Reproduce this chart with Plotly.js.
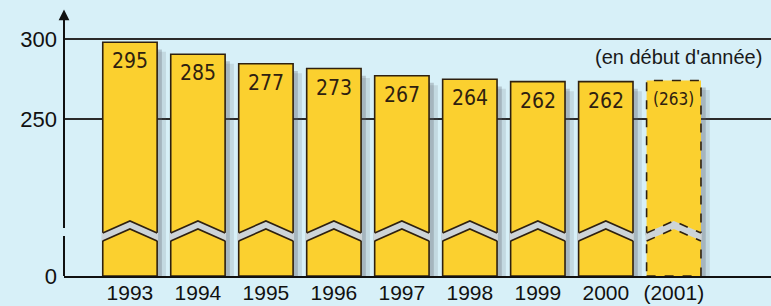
<!DOCTYPE html>
<html>
<head>
<meta charset="utf-8">
<script src="https://cdn.plot.ly/plotly-3.0.1.min.js"></script>
<style>html,body{margin:0;padding:0;background:#d7f0f8;}#chart{width:771px;height:306px;}</style>
</head>
<body>
<div id="chart"></div>
<script>
// ---- data ----
var years = ["1993", "1994", "1995", "1996", "1997", "1998", "1999", "2000", "(2001)"];
var values = [295, 285, 277, 273, 267, 264, 262, 262, 263];
var valueLabels = ["295", "285", "277", "273", "267", "264", "262", "262", "(263)"];
var estimated = [false, false, false, false, false, false, false, false, true];
var tickLabels = ["0", "250", "300"];
var note = "(en début d'année)";

// ---- broken-axis display settings (layout, not data) ----
var yFloor = 99.2, yTop = 330.4;            // visible range of the broken axis
var tickPos = [yFloor, 230.7, 297.8];      // where "0", "250", "300" sit
var brk = {upEdge: 135.2, upPeak: 145.3, loEdge: 128.5, loPeak: 138.6};
var axisGap = [132.7, 139.4];
var barW = 0.8, half = barW / 2;
var yellow = "#fbd02f", ink = "#2e2010", bg = "#d7f0f8";

var xs = years.map(function (_, i) { return i; });

var shadow1 = {
  type: "bar", x: xs.map(function (i) { return i + 0.07; }),
  y: values.map(function (v) { return v - 6 - yFloor; }), base: yFloor, width: barW,
  marker: {color: "rgba(95,100,108,0.30)", line: {width: 0}}, hoverinfo: "skip"
};
var shadow2 = {
  type: "bar", x: xs.map(function (i) { return i + 0.13; }),
  y: values.map(function (v) { return v - 8 - yFloor; }), base: yFloor, width: barW,
  marker: {color: "rgba(95,100,108,0.16)", line: {width: 0}}, hoverinfo: "skip"
};
var bars = {
  type: "bar", x: xs, y: values.map(function (v) { return v - yFloor; }), base: yFloor,
  width: barW,
  marker: {color: yellow,
           line: {color: estimated.map(function (e) { return e ? "rgba(0,0,0,0)" : ink; }), width: 1.6}},
  hoverinfo: "skip"
};

var shapes = [];
xs.forEach(function (i) {
  var x0 = i - half, x1 = i + half, e = 0.014;
  var dash = estimated[i] ? "dash" : "solid";
  if (estimated[i]) {
    shapes.push({type: "rect", xref: "x", yref: "y", x0: x0, x1: x1, y0: yFloor, y1: values[i],
      line: {color: ink, width: 1.6, dash: "dash"}, fillcolor: "rgba(0,0,0,0)", layer: "above"});
  }
  // gap band of the axis break
  shapes.push({type: "path", xref: "x", yref: "y", layer: "above",
    path: "M" + (x0 - e) + "," + brk.upEdge + " L" + i + "," + brk.upPeak + " L" + (x1 + e) + "," + brk.upEdge +
          " L" + (x1 + e) + "," + brk.loEdge + " L" + i + "," + brk.loPeak + " L" + (x0 - e) + "," + brk.loEdge + " Z",
    fillcolor: "#cdd4d8", line: {width: 0}});
  shapes.push({type: "path", xref: "x", yref: "y", layer: "above",
    path: "M" + x0 + "," + brk.upEdge + " L" + i + "," + brk.upPeak + " L" + x1 + "," + brk.upEdge,
    line: {color: ink, width: 1.6, dash: dash}});
  shapes.push({type: "path", xref: "x", yref: "y", layer: "above",
    path: "M" + x0 + "," + brk.loEdge + " L" + i + "," + brk.loPeak + " L" + x1 + "," + brk.loEdge,
    line: {color: ink, width: 1.6, dash: dash}});
});
// broken y axis line
shapes.push({type: "line", xref: "paper", yref: "y", x0: 0, x1: 0, y0: yFloor, y1: axisGap[0],
  line: {color: "#111", width: 2}, layer: "above"});
shapes.push({type: "line", xref: "paper", yref: "y", x0: 0, x1: 0, y0: axisGap[1], y1: 318,
  line: {color: "#111", width: 2}, layer: "above"});

var annotations = xs.map(function (i) {
  return {x: i, y: values[i], xref: "x", yref: "y", text: valueLabels[i], showarrow: false,
    yanchor: "top", yshift: estimated[i] ? -7 : -5,
    font: {family: "'Liberation Sans Narrow','DejaVu Sans Condensed','Liberation Sans',sans-serif",
           size: estimated[i] ? 17 : 21, color: ink}};
});
annotations.push({x: 0, y: 322.5, xref: "paper", yref: "y", ax: 0, ay: 14, axref: "pixel", ayref: "pixel",
  showarrow: true, arrowhead: 2, arrowsize: 1.2, arrowwidth: 1.8, arrowcolor: "#111", text: ""});
annotations.push({x: 1, y: 0.795, xref: "paper", yref: "paper", xanchor: "right", yanchor: "middle",
  xshift: -7, text: note, showarrow: false,
  font: {family: "'Liberation Sans',Arial,sans-serif", size: 20, color: "#1a1a1a"}});

var layout = {
  width: 771, height: 306,
  margin: {l: 64, r: 0, t: 0, b: 30, pad: 0},
  paper_bgcolor: bg, plot_bgcolor: bg,
  barmode: "overlay", showlegend: false,
  xaxis: {range: [-0.97, 9.43], tickvals: xs, ticktext: years, showgrid: false, zeroline: false,
    showline: true, linecolor: "#111", linewidth: 2, ticks: "", ticklabelstandoff: -3,
    tickfont: {family: "'Liberation Sans',Arial,sans-serif", size: 21, color: "#111"}},
  yaxis: {range: [yFloor, yTop], tickvals: tickPos, ticktext: tickLabels, showgrid: true,
    gridcolor: "#2a2a2a", gridwidth: 1.2, zeroline: false, showline: false, ticks: "",
    ticklabelstandoff: 6,
    tickfont: {family: "'Liberation Sans',Arial,sans-serif", size: 22, color: "#111"}},
  shapes: shapes,
  annotations: annotations
};

Plotly.newPlot("chart", [shadow2, shadow1, bars], layout, {staticPlot: true, displayModeBar: false});
</script>
</body>
</html>
